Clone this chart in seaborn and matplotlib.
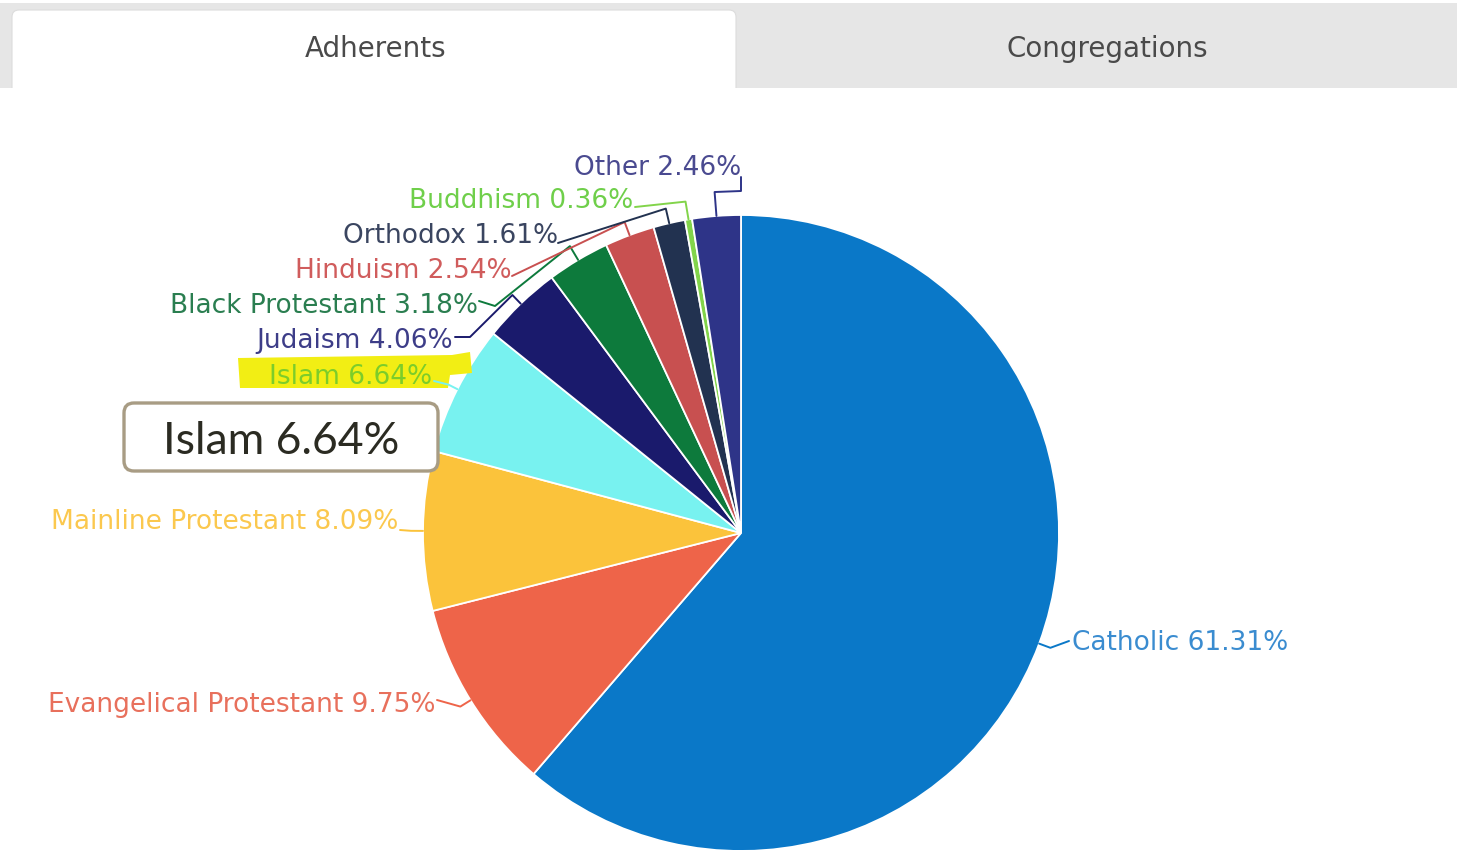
import matplotlib
matplotlib.use("Agg")
import matplotlib.pyplot as plt
import seaborn as sns
import numpy as np
from matplotlib.patches import Rectangle, FancyBboxPatch, Polygon

# ---------------- data ----------------
categories = ["Catholic", "Evangelical Protestant", "Mainline Protestant", "Islam",
              "Judaism", "Black Protestant", "Hinduism", "Orthodox", "Buddhism", "Other"]
shares = [61.31, 9.75, 8.09, 6.64, 4.06, 3.18, 2.54, 1.61, 0.36, 2.46]
slice_colors = ["#0a78c8", "#ee6449", "#fbc33b", "#78f2f0", "#1a1a6c",
                "#0d7a3c", "#c85050", "#223250", "#82d44a", "#2e3488"]
text_colors = ["#3a8cd0", "#e8705c", "#fbc84e", "#7ccd2a", "#3d3d88",
               "#2a7e50", "#d05c5c", "#3a4560", "#6fcf4a", "#4a4a90"]
tab_labels = ["Adherents", "Congregations"]
callout_text = "Islam 6.64%"

# ---------------- layout (pixels) ----------------
W, H = 1457, 850
CX, CY, R = 741, 533, 318
# text x, text centre y, alignment, connector anchor, radial extension, optional elbow
label_layout = {
    "Catholic":               (1072, 641, "left",  (1069, 641), 12, None),
    "Evangelical Protestant": (435, 703, "right", (437, 700), 12, None),
    "Mainline Protestant":    (398, 520, "right", (400, 530), 12, None),
    "Islam":                  (432, 375, "right", (434, 381), 10, None),
    "Judaism":                (453, 339, "right", (455, 337), 12, (470, 337)),
    "Black Protestant":       (478, 304, "right", (479, 301), 16, (495, 306)),
    "Hinduism":               (512, 269, "right", (512, 276), 14, None),
    "Orthodox":               (558, 234, "right", (558, 243), 15, None),
    "Buddhism":               (633, 199, "right", (635, 207), 18, None),
    "Other":                  (741, 166, "right", (741, 177), 24, (741, 191)),
}

sns.set_theme(style="white")
plt.rcParams["font.family"] = ["DejaVu Sans"]

fig = plt.figure(figsize=(W / 100, H / 100), dpi=100)
fig.patch.set_facecolor("white")
ax = fig.add_axes([0, 0, 1, 1])

palette = sns.color_palette(slice_colors)

wedges, _ = ax.pie(shares, colors=palette, center=(CX, CY), radius=R,
                   startangle=-90, counterclock=True, frame=True,
                   wedgeprops=dict(edgecolor="white", linewidth=1.3))

ax.set_xlim(0, W)
ax.set_ylim(H, 0)
ax.set_aspect("auto")
ax.axis("off")

# ---------------- tabs ----------------
ax.add_patch(Rectangle((0, 3), W, 85, facecolor="#e6e6e6", edgecolor="none", zorder=0))
ax.add_patch(FancyBboxPatch((12, 10), 724, 100, boxstyle="round,pad=0,rounding_size=7",
                            facecolor="white", edgecolor="#dcdcdc", linewidth=0.8, zorder=1))
ax.add_patch(Rectangle((0, 88), W, 30, facecolor="white", edgecolor="none", zorder=1.5))
ax.text(376, 57, tab_labels[0], ha="center", va="baseline", fontsize=20,
        color="#4a4a4a", zorder=3)
ax.text(1107, 57, tab_labels[1], ha="center", va="baseline", fontsize=20,
        color="#4a4a4a", zorder=3)

# ---------------- highlight behind Islam ----------------
ax.add_patch(Polygon([(238, 358), (452, 355), (470, 352), (472, 373), (450, 375),
                      (448, 388), (240, 388)], closed=True,
                     facecolor="#f2ee14", edgecolor="none", zorder=2))

# ---------------- labels & connectors ----------------
for w, cat, share, tcol, scol in zip(wedges, categories, shares, text_colors, slice_colors):
    tx, ty, ha, anchor, ext, elbow = label_layout[cat]
    th = np.deg2rad((w.theta1 + w.theta2) / 2)
    p_in = (CX + R * np.cos(th), CY + R * np.sin(th))
    p_out = (CX + (R + ext) * np.cos(th), CY + (R + ext) * np.sin(th))
    pts = [anchor] + ([elbow] if elbow else []) + [p_out, p_in]
    xs, ys = zip(*pts)
    ax.plot(xs, ys, color=scol, lw=1.4, solid_joinstyle="round", zorder=3)
    ax.text(tx, ty + 9, f"{cat} {share:.2f}%", ha=ha, va="baseline",
            fontsize=19, color=tcol, zorder=4)

# ---------------- callout box ----------------
ax.add_patch(FancyBboxPatch((124, 403), 314, 68, boxstyle="round,pad=0,rounding_size=10",
                            facecolor="white", edgecolor="#a89c84", linewidth=2.4, zorder=5))
ax.text(281, 454, callout_text, ha="center", va="baseline", fontsize=32,
        family=["Lato", "DejaVu Sans"], color="#2b2b22", zorder=6)

fig.savefig("out.png", dpi=100, facecolor="white")
